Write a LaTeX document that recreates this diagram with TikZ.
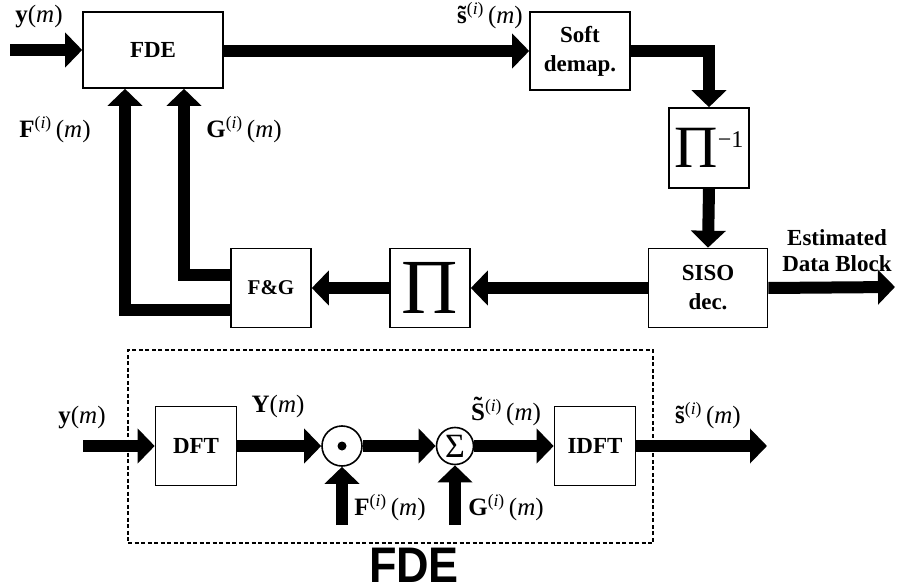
\documentclass[tikz,border=0pt]{standalone}
\usepackage{fontspec}
\setmainfont{Liberation Serif}
\newfontfamily\headfont{Liberation Sans}
\usetikzlibrary{arrows.meta}
\newcommand{\supi}{\textsuperscript{(\textit{i})}\,}
\newcommand{\ofm}{(\textit{m})}
\newcommand{\tld}[2]{\ooalign{#1\cr\hidewidth\raisebox{#2}{˜}\hidewidth\cr}}
\tikzset{
  blk/.style={draw, line width=1.6pt, inner sep=0pt, align=center,
              minimum width=80pt, minimum height=79pt,
              font=\fontsize{23}{29}\selectfont\bfseries},
  op/.style={draw, circle, line width=1.6pt, inner sep=0pt},
  arr/.style={-{Triangle[length=17pt, width=34pt]}, line width=12pt, line join=miter},
  lab/.style={font=\fontsize{25}{28}\selectfont, inner sep=0pt}
}
\begin{document}
\begin{tikzpicture}[x=1pt, y=-1pt]
  \useasboundingbox (0,0) rectangle (897,588);
  % row 1: turbo loop
  \node[blk, minimum width=140pt, minimum height=76pt] (fde) at (153,50) {FDE};
  \node[blk, minimum width=100pt, minimum height=78pt] (soft) at (580,51) {Soft\\demap.};
  \node[blk, minimum height=80pt] (pinv) at (709,148)
       {\fontsize{60}{60}\selectfont\mdseries Π\raisebox{20pt}{\fontsize{24}{24}\selectfont −1}};
  \node[blk, minimum width=119pt] (siso) at (708,288) {SISO\\dec.};
  \node[blk] (pi) at (430,288) {\fontsize{78}{78}\selectfont\mdseries Π};
  \node[blk, font=\fontsize{21}{25}\selectfont\bfseries] (fg) at (271,288) {F\&G};
  \coordinate (yin) at (10,50);
  \coordinate (est) at (895,287);

  \node[lab] (ly) at (39,17) {\textbf{y}\ofm};
  \node[lab] (lf) at (55,130) {\textbf{F}\supi\ofm};
  \node[lab] (lg) at (244,130) {\textbf{G}\supi\ofm};
  \node[lab] (ls) at (490,16) {\textbf{\tld{s}{0pt}}\supi\ofm};
  \node[lab, font=\fontsize{23}{26}\selectfont\bfseries, align=center] (lest) at (837,251)
       {Estimated\\Data Block};

  \draw[arr] (yin) -- (fde.west);
  \draw[arr] (fde.east |- soft.west) -- (soft.west);
  \draw[arr] (soft.east) -| (pinv.north);
  \draw[arr] (pinv.south) -- (siso.north);
  \draw[arr] (siso.east) -- (est);
  \draw[arr] (siso.west) -- (pi.east);
  \draw[arr] (pi.west) -- (fg.east);
  \draw[arr] ([yshift=13pt]fg.west) -| ([xshift=31pt]fde.south);
  \draw[arr] ([yshift=-22pt]fg.west) -| ([xshift=-28pt]fde.south);

  % row 2: inside the FDE
  \node[draw, dashed, line width=1.6pt, dash pattern=on 4pt off 2.5pt,
        minimum width=525pt, minimum height=193pt] (frame) at (390.5,446.5) {};
  \node[blk, minimum width=81pt] (dft) at (196,446) {DFT};
  \node[op, minimum size=40pt] (dot) at (342,446) {};
  \fill (dot.center) circle (4.5pt);
  \node[op, minimum size=37pt, font=\fontsize{34}{34}\selectfont] (sum) at (455,446) {Σ};
  \node[blk, minimum width=81pt] (idft) at (595,446) {IDFT};
  \coordinate (yin2) at (83,446);
  \coordinate (sout) at (767,446);
  \coordinate (fin) at (342,525);
  \coordinate (gin) at (455,525);

  \node[lab] (ly2) at (82,418) {\textbf{y}\ofm};
  \node[lab] (lY) at (278,406) {\textbf{Y}\ofm};
  \node[lab] (lf2) at (390,508) {\textbf{F}\supi\ofm};
  \node[lab] (lS) at (506,413) {\textbf{\tld{S}{6pt}}\supi\ofm};
  \node[lab] (lg2) at (506,508) {\textbf{G}\supi\ofm};
  \node[lab] (ls2) at (708,416) {\textbf{\tld{s}{0pt}}\supi\ofm};
  \node[anchor=base, inner sep=0pt, xscale=0.9, transform shape,
        font=\headfont\bfseries\fontsize{50}{50}\selectfont] (title) at (414,582) {FDE};

  \draw[arr] (yin2) -- (dft.west);
  \draw[arr] (dft.east) -- (dot.west);
  \draw[arr] (fin) -- (dot.south);
  \draw[arr] (dot.east) -- (sum.west);
  \draw[arr] (gin) -- (sum.south);
  \draw[arr] (sum.east) -- (idft.west);
  \draw[arr] (idft.east) -- (sout);
\end{tikzpicture}
\end{document}
